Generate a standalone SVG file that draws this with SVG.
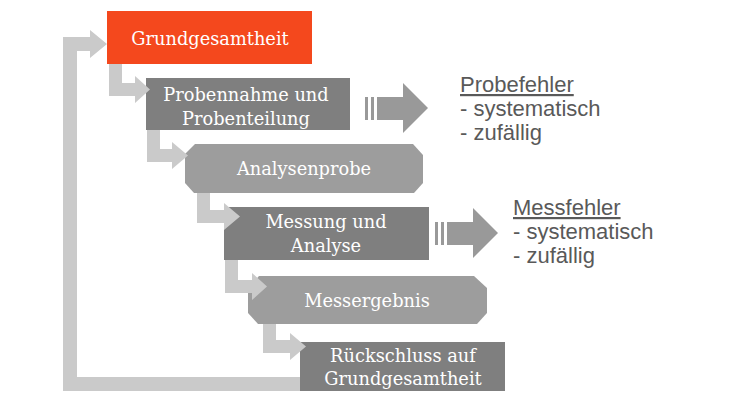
<svg xmlns="http://www.w3.org/2000/svg" width="750" height="416" viewBox="0 0 750 416">
<style>
.bx{font-family:"DejaVu Serif","Liberation Serif",serif;font-size:17.8px;fill:#ffffff;text-anchor:middle}
.dark{fill:#7f7f7f}
.mid{fill:#9d9d9d}
.flow{fill:#cacaca}
.big{fill:#999999}
.err{font-family:"Liberation Sans",Arial,sans-serif;font-size:22px;fill:#595959}
</style>
<rect width="750" height="416" fill="#ffffff"/>
<g id="n1">
<rect x="107" y="11" width="205" height="53" fill="#f4481d"/>
<text class="bx" x="210" y="45">Grundgesamtheit</text>
</g>
<g id="n2">
<rect class="dark" x="146" y="78" width="204" height="52"/>
<text class="bx" x="246" y="101">Probennahme und</text>
<text class="bx" x="246" y="125">Probenteilung</text>
</g>
<g id="n3">
<polygon class="mid" points="195,144 413,144 423,155 423,183 414,193 194,193 185,183 185,154"/>
<text class="bx" x="304" y="175">Analysenprobe</text>
</g>
<g id="n4">
<rect class="dark" x="224" y="207" width="205" height="53"/>
<text class="bx" x="326" y="228">Messung und</text>
<text class="bx" x="326" y="252">Analyse</text>
</g>
<g id="n5">
<polygon class="mid" points="259,276 474,276 487,288 487,313 477,324 258,324 248,313 248,288"/>
<text class="bx" x="367" y="307">Messergebnis</text>
</g>
<g id="n6">
<rect class="dark" x="300" y="342" width="205" height="49"/>
<text class="bx" x="403" y="362">Rückschluss auf</text>
<text class="bx" x="403" y="385">Grundgesamtheit</text>
</g>
<g id="e1">
<text class="err" x="460" y="92" text-decoration="underline">Probefehler</text>
<text class="err" x="460" y="116">- systematisch</text>
<text class="err" x="460" y="140">- zufällig</text>
</g>
<g id="e2">
<text class="err" x="513" y="215" text-decoration="underline">Messfehler</text>
<text class="err" x="513" y="239">- systematisch</text>
<text class="err" x="513" y="263">- zufällig</text>
</g>
<g id="connectors">
<path class="flow" d="M109,64 V96 H135 V103 L150,89.5 L135,76 V83 H122 V64 Z"/>
<path class="flow" d="M147,130 V162 H172 V169 L188,155.5 L172,142 V149 H160 V130 Z"/>
<path class="flow" d="M197,193 V223 H224 V230 L240,216.5 L224,203 V210 H210 V193 Z"/>
<path class="flow" d="M225,260 V293 H252 V300 L267,286.5 L252,273 V280 H238 V260 Z"/>
<path class="flow" d="M263,324 V353 H290 V360 L306,346.5 L290,333 V340 H276 V324 Z"/>
<path class="flow" d="M63,391 V37 H90 V30 L107,44 L90,58 V51 H77 V377 H300 V391 Z"/>
<g id="a1" class="big">
<rect x="365" y="97" width="3" height="23"/>
<rect x="371" y="97" width="3" height="23"/>
<path d="M377,97 H403 V83 L428,108 L403,133 V120 H377 Z"/>
</g>
<g id="a2" class="big">
<rect x="435" y="222" width="3" height="23"/>
<rect x="441" y="222" width="3" height="23"/>
<path d="M447,222 H473 V208 L498,233 L473,258 V245 H447 Z"/>
</g>
</g>
</svg>
